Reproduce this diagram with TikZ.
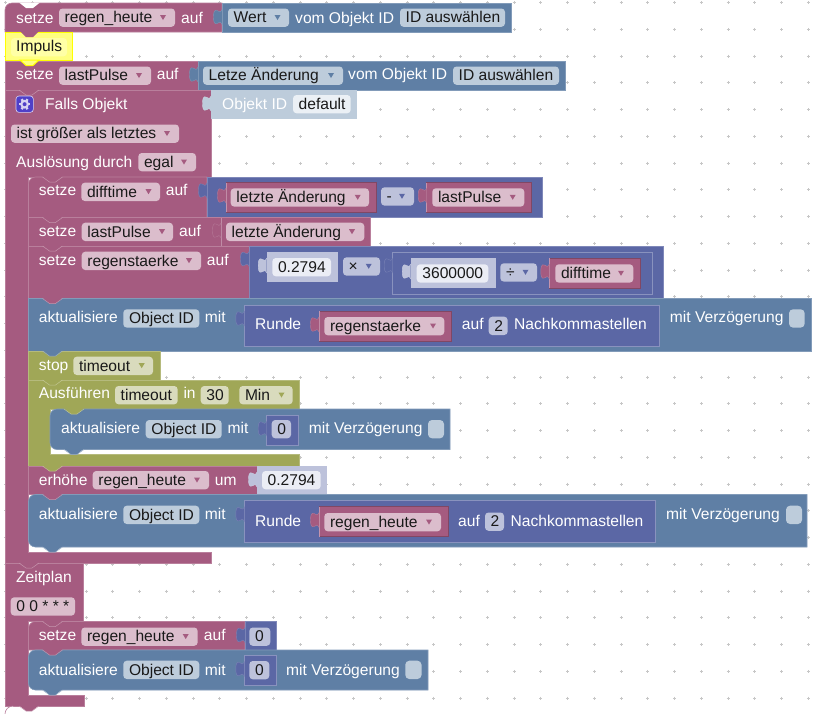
\documentclass[tikz,border=0pt]{standalone}
\usepackage{fontspec}
\setmainfont{Liberation Sans}
\definecolor{rose}{HTML}{A55B80}
\definecolor{froseb}{HTML}{DBBDCC}
\definecolor{blu}{HTML}{5F7FA5}
\definecolor{fblu}{HTML}{BDCCDB}
\definecolor{ind}{HTML}{5B67A5}
\definecolor{find}{HTML}{BDC2DB}
\definecolor{oli}{HTML}{A0A757}
\definecolor{foli}{HTML}{D9DBBD}
\definecolor{wind}{HTML}{EBEDF5}
\definecolor{wblu}{HTML}{EBF0F5}
\definecolor{yel}{HTML}{FFFF00}
\definecolor{fyel}{HTML}{FFFF80}
\definecolor{icon}{HTML}{5040C8}
\definecolor{gearc}{HTML}{D8D2F2}
\newcounter{lc}
\tikzset{
  txt/.style={anchor=base west,inner sep=0pt,font=\fontsize{15.6}{18}\selectfont},
  lbl/.style={txt,text=white},
  val/.style={txt,text=black!90},
  fieldbox/.style={rounded corners=3.5pt},
  edge/.style={line width=.6pt}
}
% blocks
\newcommand\blk[5]{\path[edge,fill=#1,draw=#1!78!white] (#2,#3) rectangle (#4,#5);}
\newcommand\blkr[5]{\path[edge,fill=#1,draw=#1!78!white] (#2,#5) [rounded corners=7pt] -- (#2,#3) [sharp corners] -- (#4,#3) -- (#4,#5) -- cycle;}
\newcommand\blkrb[5]{\path[edge,fill=#1,draw=#1!78!white] (#4,#3) [sharp corners] -- (#2+7,#3) [rounded corners=7pt] -- (#2,#3) -- (#2,#5) [sharp corners] -- (#4,#5) -- cycle;}
\newcommand\inb[5]{\path[edge,fill=#1,draw=#1!72!white] (#2,#3) rectangle (#4,#5);}
\newcommand\inr[5]{\path[edge,fill=#1,draw=#1!78!black] (#2,#3) rectangle (#4,#5); \draw[edge,#1!65!white] (#2,#5) -- (#2,#3);}
% puzzle socket: colour, x of block left, top y
\newcommand\sock[3]{\path[fill=#1,draw=#1!82!white,line width=.4pt] (#2,#3) .. controls (#2-1,#3+3) and (#2-3,#3+3) .. (#2-5,#3+1) .. controls (#2-8,#3-.5) and (#2-8.5,#3+4) .. (#2-8.5,#3+7.5) .. controls (#2-8.5,#3+11) and (#2-8,#3+15.5) .. (#2-5,#3+14) .. controls (#2-3,#3+12) and (#2-1,#3+12) .. (#2,#3+15);}
% next-statement tab: colour, x of block left, y of lower edge
\newcommand\tb[3]{\path[fill=#1] (#2+14,#3-1) -- (#2+21,#3+5) -- (#2+27,#3+5) -- (#2+34,#3-1) -- cycle; \draw[line width=.5pt,#1!65!white] (#2+14,#3) -- (#2+21,#3+5) -- (#2+27,#3+5) -- (#2+34,#3);}
% texts
\newcommand\lab[3]{\stepcounter{lc}\node[lbl] (n\arabic{lc}) at (#1,#2) {#3};}
\newcommand\fld[5]{\stepcounter{lc}\fill[#1,fieldbox] (#2,#4) rectangle (#3,#4+18.3); \node[val] (n\arabic{lc}) at (#2+5.5,#4+14.4) {#5};}
\newcommand\dd[7]{\stepcounter{lc}\fill[#1,fieldbox] (#3,#6) rectangle (#4,#6+18.3); \node[val] (n\arabic{lc}) at (#3+5.5,#6+14.4) {#7}; \fill[#2] (#5-3,#6+6.5) -- (#5+3,#6+6.5) -- (#5,#6+11.5) -- cycle;}
\begin{document}
\begin{tikzpicture}[x=1pt,y=-1pt]
\useasboundingbox (0,0) rectangle (819,713);
\fill[white] (0,0) rectangle (819,713);
% grid
\foreach \i in {0,...,30}{\foreach \j in {0,...,26}{
  \pgfmathsetmacro\gx{5.75+26.75*\i}\pgfmathsetmacro\gy{2.5+26.75*\j}
  \draw[black!22,line width=.6pt] (\gx-1.5,\gy) -- (\gx+1.5,\gy) (\gx,\gy-1.5) -- (\gx,\gy+1.5);
}}
% ---- row 1
\blkr{rose}{5}{3}{222}{32}
\blk{blu}{222}{3}{511}{32}
\sock{blu}{222}{9.5}
\fill[white] (19,2.5) -- (26,8) -- (33,8) -- (40,2.5) -- cycle;
\lab{16}{23}{setze}
\dd{froseb}{rose}{59}{175}{163}{8.5}{regen\_heute}
\lab{181}{23}{auf}
\dd{fblu}{blu}{228}{289}{277.5}{8.5}{Wert}
\lab{295}{23}{vom Objekt ID}
\fld{fblu}{400}{505}{8.5}{ID auswählen}
% ---- Impuls
\path[fill=fyel,draw=yel,line width=1.2pt] (5.6,32.6) rectangle (72.8,60.6);
\fill[rose] (20,31) -- (26,37) -- (33,37) -- (39,31) -- cycle;
\fld{fyel!70!white}{11}{67}{38}{}
\stepcounter{lc}\node[val] (n\arabic{lc}) at (16,51) {Impuls};
% ---- lastPulse
\blk{rose}{5}{61}{198}{90}
\blk{blu}{198}{61}{565}{90}
\sock{blu}{198}{67}
\path[fill=fyel,draw=yel,line width=1pt] (20,60) -- (26,65.5) -- (33,65.5) -- (39,60) -- cycle;
\lab{16}{79.5}{setze}
\dd{froseb}{rose}{59}{151}{139}{66.5}{lastPulse}
\lab{156.7}{79.5}{auf}
\dd{fblu}{blu}{203}{343}{331}{66.5}{Letze Änderung}
\lab{348}{79.5}{vom Objekt ID}
\fld{fblu}{453}{559}{66.5}{ID auswählen}
% ---- Falls Objekt C-block
\path[fill=rose,draw=rose!78!white,edge] (5,90) -- (211,90) -- (211,177) -- (28.5,177) -- (28.5,552) -- (211,552) -- (211,563) -- (5,563) -- cycle;
\tb{rose}{5}{90}
\fill[fblu] (211,90) rectangle (357,118.5);
\sock{fblu}{211}{96}
\path[fill=icon,draw=gearc,line width=.6pt,rounded corners=3pt] (16,96) rectangle (33.3,112.4);
\foreach \a in {0,60,...,300}{\draw[gearc,line width=2.3pt] (24.6,104.2) -- ++(\a:5.8);}
\fill[gearc] (24.6,104.2) circle (4.4pt);
\fill[icon] (24.6,104.2) circle (2pt);
\lab{45}{109}{Falls Objekt}
\lab{222}{109}{Objekt ID}
\fld{wblu}{293}{350.7}{95}{default}
\dd{froseb}{rose}{11}{179}{167}{124.5}{ist größer als letztes}
\lab{16}{167}{Auslösung durch}
\dd{froseb}{rose}{138.3}{196}{184}{153}{egal}
% ---- setze difftime
\blkr{rose}{28.5}{177}{207}{217.5}
\blk{ind}{207}{177}{542.5}{217.5}
\tb{rose}{28.5}{177}
\sock{ind}{207}{183}
\lab{38.7}{195.7}{setze}
\dd{froseb}{rose}{81.3}{160}{148.5}{182.7}{difftime}
\lab{165.7}{195.7}{auf}
\inr{rose}{226}{182.7}{376}{212.3}
\sock{rose}{226}{188}
\dd{froseb}{rose}{230.7}{369}{357.7}{188.3}{letzte Änderung}
\dd{find}{ind}{381}{414}{402}{187.3}{-}
\inr{rose}{426.7}{182.7}{531.7}{212.3}
\sock{rose}{426.7}{188}
\dd{froseb}{rose}{432.3}{524.3}{512.7}{188.3}{lastPulse}
% ---- setze lastPulse
\blk{rose}{28.5}{217.5}{370.7}{246}
\tb{rose}{28.5}{217.5}
\draw[edge,rose!70!white] (221,217.5) -- (221,246);
\sock{rose}{221}{223}
\lab{38.7}{236.5}{setze}
\dd{froseb}{rose}{81.7}{173}{162}{222.7}{lastPulse}
\lab{179}{236.5}{auf}
\dd{froseb}{rose}{226}{364.3}{352}{222.7}{letzte Änderung}
% ---- setze regenstaerke
\blk{rose}{28.5}{246}{249}{298.5}
\tb{rose}{28.5}{246}
\blk{ind}{249}{246}{663}{298.5}
\sock{ind}{249}{251.5}
\lab{38.7}{265}{setze}
\dd{froseb}{rose}{81.7}{201}{189}{251.7}{regenstaerke}
\lab{206.7}{265}{auf}
\fill[find] (266.7,252.3) rectangle (338,282.3);
\sock{find}{266.7}{258}
\fld{wind}{272.3}{331}{258}{0.2794}
\dd{find}{ind}{343}{380}{368.7}{257.3}{×}
\inb{ind}{392.7}{252.7}{652.7}{294.3}
\sock{ind}{392.7}{258}
\fill[find] (410.7,258.3) rectangle (495.7,288.3);
\sock{find}{410.7}{264}
\fld{wind}{416.7}{488.3}{264.3}{3600000}
\dd{find}{ind}{500.3}{537}{525.5}{263.3}{÷}
\inr{rose}{549.3}{258.3}{640}{288.3}
\sock{rose}{549.3}{264}
\dd{froseb}{rose}{555.3}{633.3}{621}{264.3}{difftime}
% ---- aktualisiere 1
\blk{blu}{28.5}{298.5}{811}{351}
\tb{rose}{28.5}{298.5}
\lab{38.7}{322.7}{aktualisiere}
\fld{fblu}{123.3}{199.3}{309.3}{Object ID}
\lab{204.7}{322.7}{mit}
\inb{ind}{244.3}{305}{659.3}{346}
\sock{ind}{244.3}{311}
\lab{255}{329.5}{Runde}
\inr{rose}{319}{311.3}{451.3}{341}
\sock{rose}{319}{317}
\dd{froseb}{rose}{324.3}{444.3}{433}{317}{regenstaerke}
\lab{461.7}{329.5}{auf}
\fld{find}{488.7}{507.7}{316.7}{2}
\lab{514}{329.5}{Nachkommastellen}
\lab{669.7}{322.7}{mit Verzögerung}
\fill[fblu,rounded corners=4pt] (789,309.3) rectangle (804.7,327.6);
% ---- stop
\blk{oli}{28.5}{351}{160}{380}
\tb{blu}{28.5}{351}
\lab{38.7}{370.7}{stop}
\dd{foli}{oli}{73.3}{153}{141.7}{356.7}{timeout}
% ---- Ausführen
\path[fill=oli,draw=oli!78!white,edge] (28.5,380) -- (299,380) -- (299,409) -- (50,409) -- (50,454.3) -- (299,454.3) -- (299,466) -- (28.5,466) -- cycle;
\tb{oli}{28.5}{380}
\lab{38.7}{398.3}{Ausführen}
\fld{foli}{115}{177.7}{386}{timeout}
\lab{183.3}{398.3}{in}
\fld{foli}{200.7}{228.7}{386}{30}
\dd{foli}{oli}{239.3}{292.7}{281.5}{386}{Min}
\blkrb{blu}{50}{409}{450}{449.5}
\tb{oli}{50}{409}
\tb{blu}{50}{449.5}
\lab{61}{433.3}{aktualisiere}
\fld{fblu}{145.7}{221.7}{420}{Object ID}
\lab{227.5}{433.3}{mit}
\inb{ind}{266.7}{415}{298.5}{445}
\sock{ind}{266.7}{421}
\fld{find}{271.7}{291}{420}{0}
\lab{308.7}{433.3}{mit Verzögerung}
\fill[fblu,rounded corners=4pt] (428,420) rectangle (444,438.3);
% ---- erhöhe
\blk{rose}{28.5}{466}{257}{494.5}
\tb{oli}{28.5}{466}
\fill[find] (257,466) rectangle (327,494.5);
\sock{find}{257}{472}
\lab{38.7}{485}{erhöhe}
\dd{froseb}{rose}{92.7}{209}{197}{471}{regen\_heute}
\lab{214.7}{485}{um}
\fld{wind}{262}{320.7}{471}{0.2794}
% ---- aktualisiere 2
\blkrb{blu}{28.5}{494.5}{807}{547}
\tb{rose}{28.5}{494.5}
\tb{blu}{28.5}{547}
\lab{38.7}{519}{aktualisiere}
\fld{fblu}{123.3}{199.3}{505.7}{Object ID}
\lab{204.7}{519}{mit}
\inb{ind}{244.3}{500.7}{655}{542}
\sock{ind}{244.3}{506.7}
\lab{255}{526}{Runde}
\inr{rose}{319}{506.7}{448}{536.7}
\sock{rose}{319}{512.5}
\dd{froseb}{rose}{324.3}{441}{429}{513}{regen\_heute}
\lab{458}{526}{auf}
\fld{find}{485}{504}{512.5}{2}
\lab{510.5}{526}{Nachkommastellen}
\lab{666}{519}{mit Verzögerung}
\fill[fblu,rounded corners=4pt] (786,505.7) rectangle (802,524);
% ---- Zeitplan
\path[fill=rose,draw=rose!78!white,edge] (84,706) [sharp corners] -- (5,706) -- (5,706) -- (5,563) -- (83.5,563) -- (83.5,621.5) -- (28.5,621.5) -- (28.5,695) -- (84,695) -- cycle;
\fill[white] (4,698) -- (4,707) -- (13,707) -- (13,706.3) arc[start angle=90,end angle=180,radius=7.7pt] -- cycle;
\draw[edge,rose!78!white] (13,706) arc[start angle=90,end angle=180,radius=8pt];
\tb{rose}{5}{563}
\tb{rose}{5}{706}
\lab{16}{582.7}{Zeitplan}
\fld{froseb}{10.7}{75}{597.3}{0 0 * * *}
% ---- setze regen_heute
\blkr{rose}{28.5}{621.5}{245}{650}
\blk{ind}{245}{621.5}{276.7}{650}
\tb{rose}{28.5}{621.5}
\sock{ind}{245}{627.5}
\lab{38.7}{640}{setze}
\dd{froseb}{rose}{81.3}{197.7}{185.7}{627.5}{regen\_heute}
\lab{203.7}{640}{auf}
\fld{find}{249.3}{270.3}{627.5}{0}
% ---- aktualisiere 3
\blkrb{blu}{28.5}{650}{428}{690}
\tb{rose}{28.5}{650}
\tb{blu}{28.5}{690}
\lab{38.7}{675}{aktualisiere}
\fld{fblu}{123.3}{199.3}{660.7}{Object ID}
\lab{204.7}{675}{mit}
\inb{ind}{244.3}{655.7}{276}{685.7}
\sock{ind}{244.3}{661.5}
\fld{find}{249.3}{269.3}{661}{0}
\lab{286}{675}{mit Verzögerung}
\fill[fblu,rounded corners=4pt] (405.3,660.7) rectangle (421.5,679);
\end{tikzpicture}
\end{document}
